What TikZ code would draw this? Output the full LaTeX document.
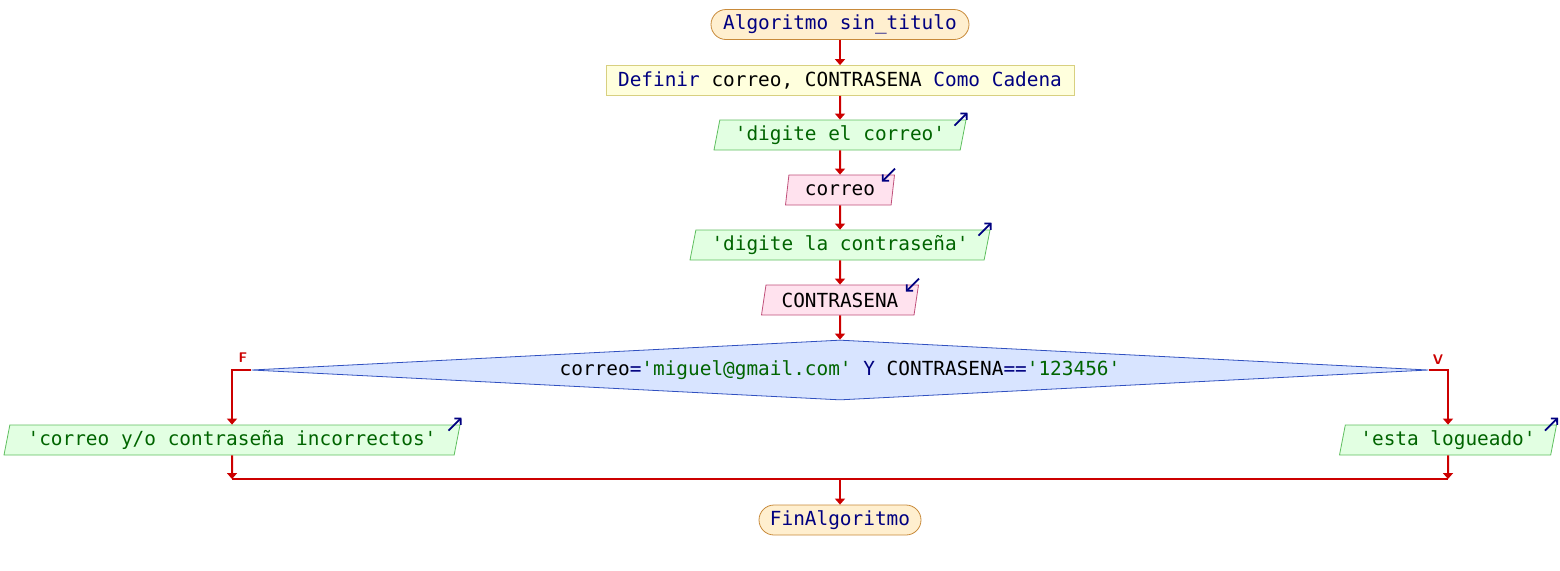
\documentclass[tikz,border=0pt]{standalone}
\usepackage{fontspec}
\usepackage{tikz}
\usetikzlibrary{shapes.geometric,arrows.meta}
\newfontfamily\psmono[Ligatures=TeXOff]{DejaVu Sans Mono}
\definecolor{flecha}{HTML}{CC0000}
\definecolor{kw}{HTML}{000080}
\definecolor{str}{HTML}{006400}
\definecolor{termfondo}{HTML}{FFEFCF}
\definecolor{termborde}{HTML}{C88A3A}
\definecolor{deffondo}{HTML}{FFFFDD}
\definecolor{defborde}{HTML}{D8D080}
\definecolor{escfondo}{HTML}{E2FFE2}
\definecolor{escborde}{HTML}{5FBF5F}
\definecolor{leefondo}{HTML}{FFE2EE}
\definecolor{leeborde}{HTML}{C0507A}
\definecolor{condfondo}{HTML}{D8E4FF}
\definecolor{condborde}{HTML}{3050C0}
\begin{document}
\begin{tikzpicture}[x=0.5pt, y=-0.5pt, >={Triangle[width=5pt,length=3pt]},
    txt/.style={font=\psmono\fontsize{9.7}{11}\selectfont},
    terminal/.style={txt, text=kw, draw=termborde, fill=termfondo, rounded corners=7.5pt, minimum height=15pt, inner sep=0pt},
    defbox/.style={txt, text=kw, draw=defborde, fill=deffondo, minimum height=15pt, inner sep=0pt},
    escribir/.style={txt, text=str, draw=escborde, fill=escfondo, trapezium, trapezium left angle=73, trapezium right angle=107, trapezium stretches body, minimum height=15pt, inner xsep=1pt, inner ysep=0pt},
    leer/.style={escribir, text=black, draw=leeborde, fill=leefondo},
    decision/.style={txt, diamond, aspect=19.6, draw=condborde, fill=condfondo, minimum width=588.5pt, minimum height=30pt, inner sep=0pt},
    flujo/.style={draw=flecha, line width=1pt},
    icono/.style={draw=kw, line width=0.9pt, -{Straight Barb[length=2.2pt,width=4.5pt]}},
    etiq/.style={text=flecha, font=\sffamily\bfseries\fontsize{7}{8}\selectfont, inner sep=0pt}]
  \useasboundingbox (0,0) rectangle (1560,570);
  \node[terminal, minimum width=129pt] (inicio) at (840,24.5) {Algoritmo sin\_titulo};
  \node[defbox, minimum width=234pt] (definir) at (840,80.5) {Definir \textcolor{black}{correo, CONTRASENA} Como Cadena};
  \node[escribir, minimum width=126pt] (msg1) at (840,135) {'digite el correo'};
  \node[leer, minimum width=54.5pt] (leer1) at (840,190) {correo};
  \node[escribir, minimum width=150pt] (msg2) at (840,245) {'digite la contraseña'};
  \node[leer, minimum width=78.5pt] (leer2) at (840,300) {CONTRASENA};
  \node[decision] (cond) at (840,370) {correo\textcolor{kw}{=}\textcolor{str}{'miguel@gmail.com'} \textcolor{kw}{Y} CONTRASENA\textcolor{kw}{==}\textcolor{str}{'123456'}};
  \node[escribir, minimum width=228pt] (msgF) at (232,440) {'correo y/o contraseña incorrectos'};
  \node[escribir, minimum width=108.5pt] (msgV) at (1448,440) {'esta logueado'};
  \node[terminal, minimum width=81pt] (fin) at (840,520) {FinAlgoritmo};
  \coordinate (uneF) at (232,479);
  \coordinate (uneV) at (1448,479);
  \draw[flujo,->] (inicio) -- (definir);
  \draw[flujo,->] (definir) -- (msg1);
  \draw[flujo,->] (msg1) -- (leer1);
  \draw[flujo,->] (leer1) -- (msg2);
  \draw[flujo,->] (msg2) -- (leer2);
  \draw[flujo,->] (leer2) -- (cond);
  \draw[flujo,->] (cond.west) -| (msgF.north);
  \draw[flujo,->] (cond.east) -| (msgV.north);
  \node[etiq] at (243,358) {F};
  \node[etiq] at (1438,360) {V};
  \draw[flujo,->] (msgF.south) -- (uneF);
  \draw[flujo,->] (msgV.south) -- (uneV);
  \draw[flujo] (uneF) -- (uneV);
  \draw[flujo,->] (fin.north |- uneF) -- (fin.north);
  \draw[icono] ([xshift=-6pt,yshift=-3pt]msg1.top right corner) -- ++(13,-13);
  \draw[icono] ([xshift=-6pt,yshift=-3pt]msg2.top right corner) -- ++(13,-13);
  \draw[icono] ([xshift=-6pt,yshift=-3pt]msgF.top right corner) -- ++(13,-13);
  \draw[icono] ([xshift=-6pt,yshift=-3pt]msgV.top right corner) -- ++(13,-13);
  \draw[icono] ([yshift=3pt]leer1.top right corner) -- ++(-13,13);
  \draw[icono] ([yshift=3pt]leer2.top right corner) -- ++(-13,13);
\end{tikzpicture}
\end{document}
